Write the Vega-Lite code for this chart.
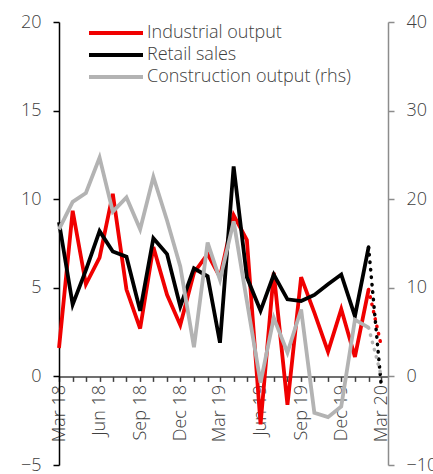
{
  "$schema": "https://vega.github.io/schema/vega-lite/v6.json",
  "width": 329,
  "height": 443,
  "autosize": {"type": "none"},
  "padding": {"left": 59, "top": 22, "right": 45, "bottom": 9},
  "config": {
    "view": {"stroke": null},
    "font": "Open Sans",
    "axis": {"labelFont": "Open Sans", "labelFontSize": 18, "labelFontWeight": 300, "labelColor": "#404040", "grid": false, "tickSize": 6, "title": null}
  },
  "data": {
    "values": [
      {"date": "2018-03-01", "series": "Industrial output", "kind": "actual", "value": 1.6},
      {"date": "2018-04-01", "series": "Industrial output", "kind": "actual", "value": 9.35},
      {"date": "2018-05-01", "series": "Industrial output", "kind": "actual", "value": 5.2},
      {"date": "2018-06-01", "series": "Industrial output", "kind": "actual", "value": 6.7},
      {"date": "2018-07-01", "series": "Industrial output", "kind": "actual", "value": 10.3},
      {"date": "2018-08-01", "series": "Industrial output", "kind": "actual", "value": 4.9},
      {"date": "2018-09-01", "series": "Industrial output", "kind": "actual", "value": 2.7},
      {"date": "2018-10-01", "series": "Industrial output", "kind": "actual", "value": 7.3},
      {"date": "2018-11-01", "series": "Industrial output", "kind": "actual", "value": 4.6},
      {"date": "2018-12-01", "series": "Industrial output", "kind": "actual", "value": 2.9},
      {"date": "2019-01-01", "series": "Industrial output", "kind": "actual", "value": 5.85},
      {"date": "2019-02-01", "series": "Industrial output", "kind": "actual", "value": 6.9},
      {"date": "2019-03-01", "series": "Industrial output", "kind": "actual", "value": 5.6},
      {"date": "2019-04-01", "series": "Industrial output", "kind": "actual", "value": 9.1},
      {"date": "2019-05-01", "series": "Industrial output", "kind": "actual", "value": 7.7},
      {"date": "2019-06-01", "series": "Industrial output", "kind": "actual", "value": -2.7},
      {"date": "2019-07-01", "series": "Industrial output", "kind": "actual", "value": 5.85},
      {"date": "2019-08-01", "series": "Industrial output", "kind": "actual", "value": -1.6},
      {"date": "2019-09-01", "series": "Industrial output", "kind": "actual", "value": 5.6},
      {"date": "2019-10-01", "series": "Industrial output", "kind": "actual", "value": 3.6},
      {"date": "2019-11-01", "series": "Industrial output", "kind": "actual", "value": 1.4},
      {"date": "2019-12-01", "series": "Industrial output", "kind": "actual", "value": 3.8},
      {"date": "2020-01-01", "series": "Industrial output", "kind": "actual", "value": 1.1},
      {"date": "2020-02-01", "series": "Industrial output", "kind": "actual", "value": 4.9},
      {"date": "2018-03-01", "series": "Retail sales", "kind": "actual", "value": 8.7},
      {"date": "2018-04-01", "series": "Retail sales", "kind": "actual", "value": 4.05},
      {"date": "2018-05-01", "series": "Retail sales", "kind": "actual", "value": 6.0},
      {"date": "2018-06-01", "series": "Retail sales", "kind": "actual", "value": 8.2},
      {"date": "2018-07-01", "series": "Retail sales", "kind": "actual", "value": 7.05},
      {"date": "2018-08-01", "series": "Retail sales", "kind": "actual", "value": 6.75},
      {"date": "2018-09-01", "series": "Retail sales", "kind": "actual", "value": 3.7},
      {"date": "2018-10-01", "series": "Retail sales", "kind": "actual", "value": 7.8},
      {"date": "2018-11-01", "series": "Retail sales", "kind": "actual", "value": 6.9},
      {"date": "2018-12-01", "series": "Retail sales", "kind": "actual", "value": 3.95},
      {"date": "2019-01-01", "series": "Retail sales", "kind": "actual", "value": 6.1},
      {"date": "2019-02-01", "series": "Retail sales", "kind": "actual", "value": 5.65},
      {"date": "2019-03-01", "series": "Retail sales", "kind": "actual", "value": 1.9},
      {"date": "2019-04-01", "series": "Retail sales", "kind": "actual", "value": 11.85},
      {"date": "2019-05-01", "series": "Retail sales", "kind": "actual", "value": 5.6},
      {"date": "2019-06-01", "series": "Retail sales", "kind": "actual", "value": 3.7},
      {"date": "2019-07-01", "series": "Retail sales", "kind": "actual", "value": 5.75},
      {"date": "2019-08-01", "series": "Retail sales", "kind": "actual", "value": 4.35},
      {"date": "2019-09-01", "series": "Retail sales", "kind": "actual", "value": 4.25},
      {"date": "2019-10-01", "series": "Retail sales", "kind": "actual", "value": 4.6},
      {"date": "2019-11-01", "series": "Retail sales", "kind": "actual", "value": 5.2},
      {"date": "2019-12-01", "series": "Retail sales", "kind": "actual", "value": 5.75},
      {"date": "2020-01-01", "series": "Retail sales", "kind": "actual", "value": 3.4},
      {"date": "2020-02-01", "series": "Retail sales", "kind": "actual", "value": 7.3},
      {"date": "2018-03-01", "series": "Construction output (rhs)", "kind": "actual", "value": 16.6},
      {"date": "2018-04-01", "series": "Construction output (rhs)", "kind": "actual", "value": 19.7},
      {"date": "2018-05-01", "series": "Construction output (rhs)", "kind": "actual", "value": 20.7},
      {"date": "2018-06-01", "series": "Construction output (rhs)", "kind": "actual", "value": 24.7},
      {"date": "2018-07-01", "series": "Construction output (rhs)", "kind": "actual", "value": 18.6},
      {"date": "2018-08-01", "series": "Construction output (rhs)", "kind": "actual", "value": 20.2},
      {"date": "2018-09-01", "series": "Construction output (rhs)", "kind": "actual", "value": 16.6},
      {"date": "2018-10-01", "series": "Construction output (rhs)", "kind": "actual", "value": 22.5},
      {"date": "2018-11-01", "series": "Construction output (rhs)", "kind": "actual", "value": 17.6},
      {"date": "2018-12-01", "series": "Construction output (rhs)", "kind": "actual", "value": 12.4},
      {"date": "2019-01-01", "series": "Construction output (rhs)", "kind": "actual", "value": 3.3},
      {"date": "2019-02-01", "series": "Construction output (rhs)", "kind": "actual", "value": 15.1},
      {"date": "2019-03-01", "series": "Construction output (rhs)", "kind": "actual", "value": 10.9},
      {"date": "2019-04-01", "series": "Construction output (rhs)", "kind": "actual", "value": 17.5},
      {"date": "2019-05-01", "series": "Construction output (rhs)", "kind": "actual", "value": 8.5},
      {"date": "2019-06-01", "series": "Construction output (rhs)", "kind": "actual", "value": -0.7},
      {"date": "2019-07-01", "series": "Construction output (rhs)", "kind": "actual", "value": 6.6},
      {"date": "2019-08-01", "series": "Construction output (rhs)", "kind": "actual", "value": 2.7},
      {"date": "2019-09-01", "series": "Construction output (rhs)", "kind": "actual", "value": 7.55},
      {"date": "2019-10-01", "series": "Construction output (rhs)", "kind": "actual", "value": -4.1},
      {"date": "2019-11-01", "series": "Construction output (rhs)", "kind": "actual", "value": -4.6},
      {"date": "2019-12-01", "series": "Construction output (rhs)", "kind": "actual", "value": -3.4},
      {"date": "2020-01-01", "series": "Construction output (rhs)", "kind": "actual", "value": 6.4},
      {"date": "2020-02-01", "series": "Construction output (rhs)", "kind": "actual", "value": 5.5},
      {"date": "2020-02-01", "series": "Industrial output", "kind": "forecast", "value": 4.9},
      {"date": "2020-03-01", "series": "Industrial output", "kind": "forecast", "value": 1.7},
      {"date": "2020-02-01", "series": "Retail sales", "kind": "forecast", "value": 7.3},
      {"date": "2020-03-01", "series": "Retail sales", "kind": "forecast", "value": -0.6},
      {"date": "2020-02-01", "series": "Construction output (rhs)", "kind": "forecast", "value": 5.5},
      {"date": "2020-03-01", "series": "Construction output (rhs)", "kind": "forecast", "value": 0.0}
    ]
  },
  "encoding": {
    "x": {
      "field": "date",
      "type": "temporal",
      "scale": {"type": "utc", "domain": [{"year": 2018, "month": 3, "date": 1, "utc": true}, {"year": 2020, "month": 3, "date": 16, "utc": true}]},
      "axis": {
        "orient": "bottom",
        "offset": -88.6,
        "tickCount": {"interval": "month", "step": 1},
        "labelExpr": "utcmonth(datum.value) % 3 == 2 ? utcFormat(datum.value, '%b %y') : ''",
        "labelAngle": -90,
        "labelPadding": 3,
        "tickSize": 5,
        "domainColor": "#404040",
        "tickColor": "#404040",
        "domainWidth": 1.5,
        "tickWidth": 1.5,
        "labelOverlap": false,
        "labelFlush": false,
        "labelBound": false
      }
    }
  },
  "layer": [
    {
      "encoding": {
        "y": {
          "field": "value",
          "type": "quantitative",
          "scale": {"domain": [-5, 20], "nice": false, "zero": false},
          "axis": {"orient": "left", "values": [-5, 0, 5, 10, 15, 20], "domainColor": "#000000", "tickColor": "#000000", "domainWidth": 1.5, "tickWidth": 1.5, "labelPadding": 12}
        }
      },
      "layer": [
        {
          "transform": [{"filter": "datum.kind == 'actual' && datum.series != 'Construction output (rhs)'"}],
          "mark": {"type": "line", "strokeWidth": 3.8},
          "encoding": {
            "color": {
              "field": "series",
              "type": "nominal",
              "scale": {"domain": ["Industrial output", "Retail sales", "Construction output (rhs)"], "range": ["#f00000", "#000000", "#b3b3b3"]},
              "legend": {"title": null, "orient": "none", "legendX": 46, "legendY": 0, "symbolType": "M-3,0H3", "symbolSize": 324, "symbolStrokeWidth": 4, "labelFont": "Open Sans", "labelFontSize": 18, "labelFontWeight": 300, "labelColor": "#404040", "labelOffset": 20, "labelLimit": 400, "rowPadding": 2}
            }
          }
        },
        {
          "transform": [{"filter": "datum.kind == 'forecast' && datum.series == 'Industrial output'"}],
          "mark": {"type": "line", "strokeWidth": 3.5, "color": "#f00000", "strokeDash": [0.5, 7], "strokeCap": "round"}
        },
        {
          "transform": [{"filter": "datum.kind == 'forecast' && datum.series == 'Retail sales'"}],
          "mark": {"type": "line", "strokeWidth": 3.5, "color": "#000000", "strokeDash": [0.5, 7], "strokeCap": "round"}
        }
      ]
    },
    {
      "encoding": {
        "y": {
          "field": "value",
          "type": "quantitative",
          "scale": {"domain": [-10, 40], "nice": false, "zero": false},
          "axis": {"orient": "right", "values": [-10, 0, 10, 20, 30, 40], "domainColor": "#8c8c8c", "tickColor": "#8c8c8c", "domainWidth": 1.5, "tickWidth": 1.5, "labelPadding": 12}
        }
      },
      "layer": [
        {
          "transform": [{"filter": "datum.kind == 'actual' && datum.series == 'Construction output (rhs)'"}],
          "mark": {"type": "line", "strokeWidth": 3.8},
          "encoding": {
            "color": {
              "field": "series",
              "type": "nominal",
              "scale": {"domain": ["Industrial output", "Retail sales", "Construction output (rhs)"], "range": ["#f00000", "#000000", "#b3b3b3"]},
              "legend": {"title": null, "orient": "none", "legendX": 46, "legendY": 0, "symbolType": "M-3,0H3", "symbolSize": 324, "symbolStrokeWidth": 4, "labelFont": "Open Sans", "labelFontSize": 18, "labelFontWeight": 300, "labelColor": "#404040", "labelOffset": 20, "labelLimit": 400, "rowPadding": 2}
            }
          }
        },
        {
          "transform": [{"filter": "datum.kind == 'forecast' && datum.series == 'Construction output (rhs)'"}],
          "mark": {"type": "line", "strokeWidth": 3.5, "color": "#b3b3b3", "strokeDash": [0.5, 7], "strokeCap": "round"}
        }
      ]
    }
  ],
  "resolve": {"scale": {"y": "independent"}, "axis": {"y": "independent"}}
}
